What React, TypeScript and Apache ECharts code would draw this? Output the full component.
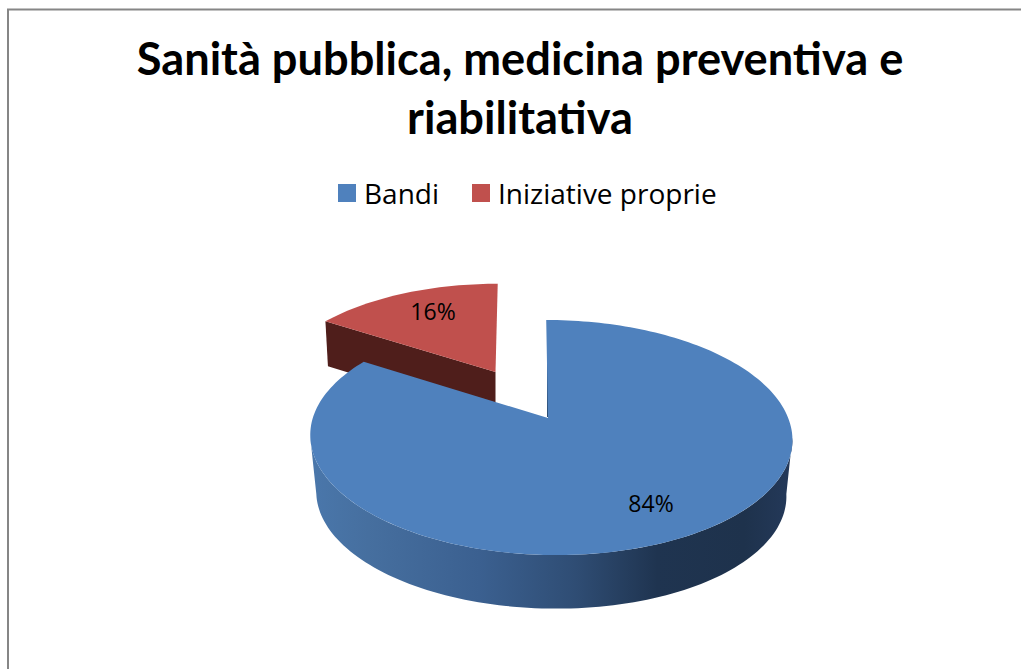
import React, { useEffect, useRef } from "react";
import * as echarts from "echarts";

const titleLines = ["Sanità pubblica, medicina preventiva e", "riabilitativa"];
const categories = ["Bandi", "Iniziative proprie"];
const values = [84, 16];
const colors = ["#4f81bd", "#c0504d"];

const FONT = "'Open Sans'";
const TITLE_FONT = "Lato";
const total = values.reduce((a, b) => a + b, 0);
const K = 0.166;

type Cfg = {
  apex: [number, number]; cx: number; cy: number; a: number; b: number; c: number;
  label: [number, number];
};

const cfgs: Cfg[] = [
  { apex: [548, 418], cx: 550.5, cy: 418, a: 237.7, b: 114.3, c: -5, label: [651, 503] },
  { apex: [495.5, 372], cx: 495.5, cy: 372, a: 221, b: 102.9, c: 2.6, label: [433, 311] },
];

function proj(cfg: Cfg, deg: number, scale = 1, dy = 0): number[] {
  const t = (deg * Math.PI) / 180;
  const u = Math.sin(t);
  const v = Math.cos(t);
  const w = 1 + K * v;
  return [
    cfg.cx + (scale * (cfg.a * u + cfg.c * v)) / w,
    cfg.cy + dy - (scale * cfg.b * v) / w,
  ];
}

function arc(cfg: Cfg, from: number, to: number, scale = 1, dy = 0): number[][] {
  const pts: number[][] = [];
  const n = Math.max(2, Math.ceil(Math.abs(to - from) / 1.5));
  for (let i = 0; i <= n; i++) pts.push(proj(cfg, from + ((to - from) * i) / n, scale, dy));
  return pts;
}

function renderSlice(idx: number) {
  return (_params: any, api: any) => {
    const value = api.value(0) as number;
    const before = values.slice(0, idx).reduce((a, b) => a + b, 0);
    const start = (before / total) * 360;
    const end = ((before + value) / total) * 360;
    const cfg = cfgs[idx];
    const children: any[] = [];
    if (idx === 0) {
      const a0 = 99.6;
      const a1 = 260.4;
      const wall = [...arc(cfg, a0, a1), ...arc(cfg, a1, a0, 0.975, 57)];
      children.push({
        type: "polygon",
        shape: { points: wall },
        style: {
          fill: new echarts.graphic.LinearGradient(0, 0, 1, 0, [
            { offset: 0, color: "#4a77ab" },
            { offset: 0.12, color: "#466f9f" },
            { offset: 0.35, color: "#3b6090" },
            { offset: 0.55, color: "#2f4d74" },
            { offset: 0.72, color: "#1f3450" },
            { offset: 0.9, color: "#1e324c" },
            { offset: 1, color: "#24395a" },
          ]),
        },
      });
      children.push({
        type: "line",
        shape: { x1: 547.5, y1: 360, x2: 547.5, y2: 417 },
        style: { stroke: "#2a4a70", lineWidth: 1 },
      });
    } else {
      const p0 = proj(cfg, start);
      children.push({
        type: "polygon",
        shape: { points: [p0, cfg.apex, [cfg.apex[0], cfg.apex[1] + 46], [p0[0] + 2.5, p0[1] + 45]] },
        style: { fill: "#4f1e1b" },
      });
    }
    children.push({
      type: "polygon",
      shape: { points: [cfg.apex, ...arc(cfg, start, end)] },
      style: { fill: colors[idx] },
    });
    children.push({
      type: "text",
      x: cfg.label[0],
      y: cfg.label[1],
      style: {
        text: `${Math.round((value / total) * 100)}%`,
        fontFamily: FONT,
        fontSize: 23,
        fill: "#000",
        align: "center",
        verticalAlign: "middle",
      },
    });
    return { type: "group", children };
  };
}

export default function App() {
  const ref = useRef<HTMLDivElement>(null);
  useEffect(() => {
    document.body.style.margin = "0";
    const chart = echarts.init(ref.current!, undefined, { renderer: "svg" });
    chart.setOption({
      animation: false,
      backgroundColor: "#fff",
      color: colors,
      title: {
        text: titleLines.join("\n"),
        left: 515,
        top: 23,
        textAlign: "center",
        textStyle: {
          fontFamily: TITLE_FONT,
          fontSize: 45.2,
          fontWeight: "bold",
          color: "#000",
          lineHeight: 59,
          align: "center",
        },
      },
      legend: {
        data: categories,
        left: 333,
        top: 174,
        icon: "rect",
        itemWidth: 18,
        itemHeight: 18,
        itemGap: 33,
        textStyle: { fontFamily: FONT, fontSize: 28, color: "#000", padding: [0, 0, 0, 3] },
        selectedMode: false,
      },
      graphic: [
        {
          type: "polyline",
          shape: { points: [[8, 669], [8, 9.5], [1021, 9.5]] },
          style: { stroke: "#868686", lineWidth: 2, fill: "none" },
          silent: true,
        },
      ],
      series: [1, 0].map((i) => ({
        type: "custom",
        name: categories[i],
        coordinateSystem: "none",
        itemStyle: { color: colors[i] },
        renderItem: renderSlice(i),
        data: [[values[i]]],
        silent: true,
      })),
    });
    return () => chart.dispose();
  }, []);
  return <div ref={ref} style={{ width: 1021, height: 669 }} />;
}
